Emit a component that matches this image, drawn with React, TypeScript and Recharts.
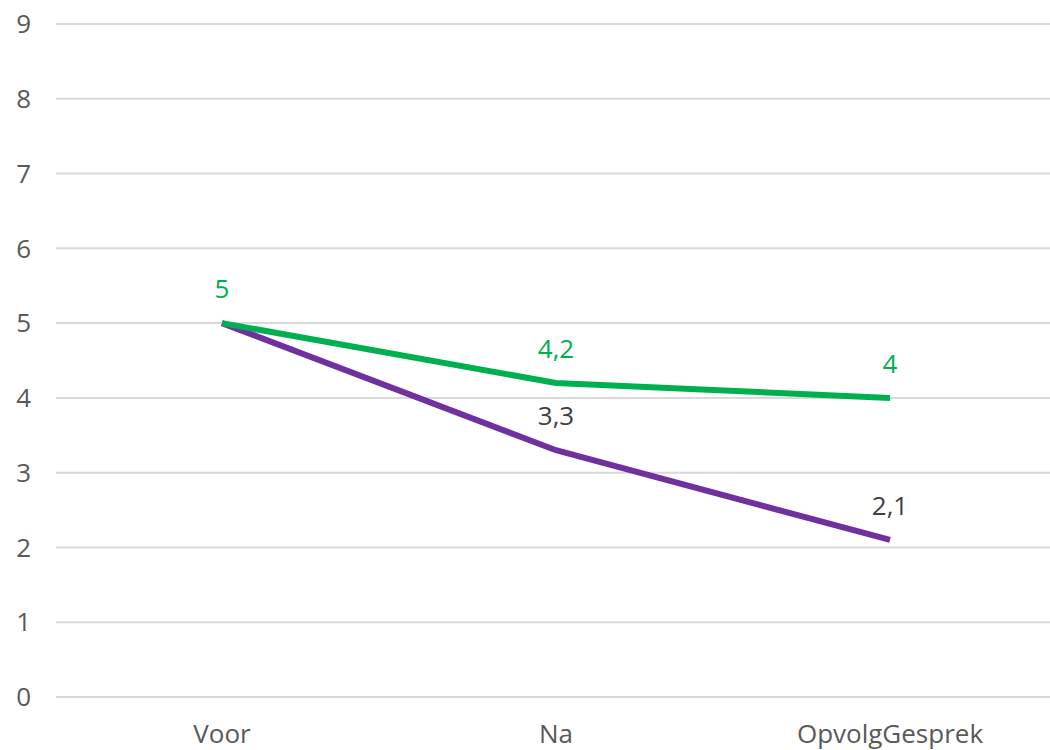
import { LineChart, Line, XAxis, YAxis, CartesianGrid, LabelList } from 'recharts'

const categories = ['Voor', 'Na', 'OpvolgGesprek']
const greenValues = [5, 4.2, 4]
const purpleValues = [5, 3.3, 2.1]
const yTicks = [0, 1, 2, 3, 4, 5, 6, 7, 8, 9]

const data = categories.map((name, i) => ({
  name,
  green: greenValues[i],
  purple: purpleValues[i],
}))

const FONT = '"Open Sans", sans-serif'
const fmt = (v: number) => String(v).replace('.', ',')

function makeLabel(color: string, skip: number[]) {
  return function LabelContent(props: any) {
    const { x, y, value, index } = props
    if (skip.includes(index)) return null
    return (
      <text x={x} y={y - 25} textAnchor="middle" fill={color} fontSize={26} fontFamily={FONT}>
        {fmt(value)}
      </text>
    )
  }
}

export default function App() {
  return (
    <div style={{ position: 'absolute', left: 0, top: 0, width: 1050, height: 750, overflow: 'hidden', background: '#fff' }}>
      <LineChart width={1056} height={750} data={data} margin={{ top: 24, right: 0, bottom: 0, left: 0 }}>
        <CartesianGrid vertical={false} stroke="#D9D9D9" strokeWidth={2} />
        <XAxis
          dataKey="name"
          axisLine={false}
          tickLine={false}
          height={53}
          tickSize={0}
          tickMargin={28}
          padding={{ left: 166, right: 166 }}
          tick={{ fontSize: 26, fill: '#595959', fontFamily: FONT }}
        />
        <YAxis
          domain={[0, 9]}
          ticks={yTicks}
          width={56}
          axisLine={false}
          tickLine={false}
          tickSize={0}
          tickMargin={25}
          tick={{ fontSize: 26, fill: '#595959', fontFamily: FONT }}
        />
        <Line
          type="linear"
          dataKey="purple"
          stroke="#7030A0"
          strokeWidth={6}
          dot={false}
          isAnimationActive={false}
        >
          <LabelList dataKey="purple" content={makeLabel('#404040', [0])} />
        </Line>
        <Line
          type="linear"
          dataKey="green"
          stroke="#00B050"
          strokeWidth={6}
          dot={false}
          isAnimationActive={false}
        >
          <LabelList dataKey="green" content={makeLabel('#00B050', [])} />
        </Line>
      </LineChart>
    </div>
  )
}
